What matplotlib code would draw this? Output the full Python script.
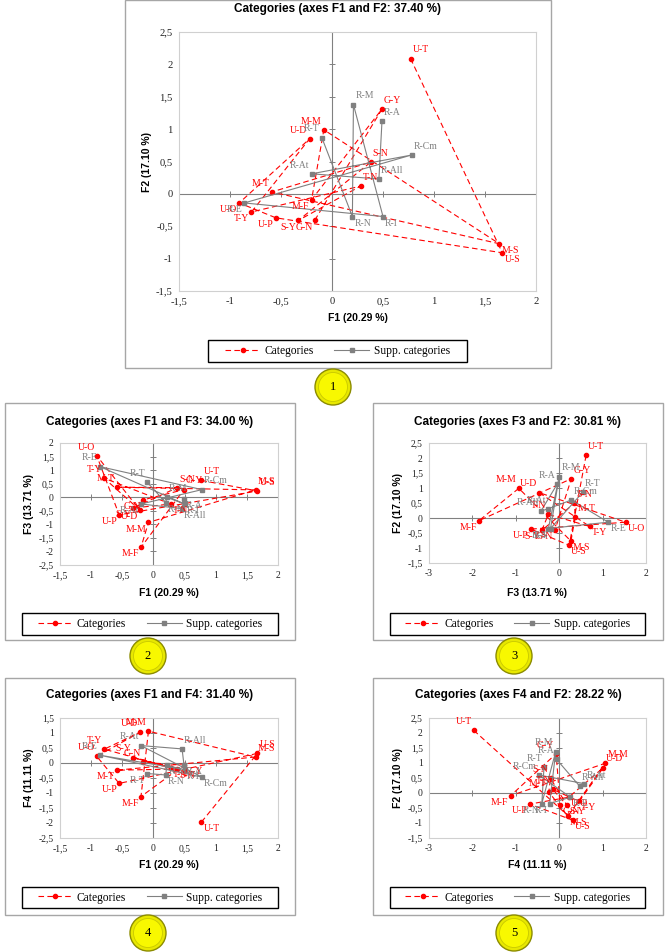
import numpy as np
import matplotlib.pyplot as plt
from matplotlib.patches import Rectangle, Circle
from matplotlib.lines import Line2D
from matplotlib.ticker import FuncFormatter

W, H = 669, 952

# active categories, in series order
cat_labels = ['U-T', 'U-S', 'U-P', 'U-O', 'U-D', 'T-Y', 'T-N', 'S-Y', 'S-N',
              'M-T', 'M-S', 'M-M', 'M-F', 'G-Y', 'G-N']
cat_f1 = [0.77, 1.67, -0.55, -0.91, -0.22, -0.79, 0.28, -0.33, 0.38,
          -0.59, 1.64, -0.08, -0.20, 0.49, -0.17]
cat_f2 = [2.09, -0.91, -0.37, -0.14, 0.85, -0.28, 0.12, -0.41, 0.49,
          0.03, -0.77, 0.99, -0.09, 1.31, -0.41]
cat_f3 = [0.62, 0.23, -0.65, 1.53, -0.47, 0.70, -0.25, -0.40, 0.35,
          0.37, 0.27, -0.93, -1.85, 0.28, -0.10]
cat_f4 = [-1.97, 0.32, -0.68, 0.22, 1.02, 0.46, -0.15, 0.18, -0.20,
          -0.24, 0.20, 1.06, -1.12, -0.07, 0.02]

# supplementary categories
sup_labels = ['R-T', 'R-N', 'R-M', 'R-I', 'R-E', 'R-Cm', 'R-At', 'R-All', 'R-A']
sup_f1 = [-0.10, 0.20, 0.21, 0.50, -0.86, 0.78, -0.20, 0.46, 0.49]
sup_f2 = [0.87, -0.35, 1.38, -0.35, -0.14, 0.60, 0.31, 0.23, 1.12]
sup_f3 = [0.55, -0.20, 0.00, -0.25, 1.13, 0.28, -0.25, -0.42, -0.05]
sup_f4 = [-0.35, -0.40, -0.08, -0.22, 0.26, -0.47, 0.58, 0.47, -0.06]

inertia = {'F1': '20.29', 'F2': '17.10', 'F3': '13.71', 'F4': '11.11'}
totals = ['37.40', '34.00', '30.81', '31.40', '28.22']
pairs = [('F1', 'F2'), ('F1', 'F3'), ('F3', 'F2'), ('F1', 'F4'), ('F4', 'F2')]

cat = {'F1': cat_f1, 'F2': cat_f2, 'F3': cat_f3, 'F4': cat_f4}
sup = {'F1': sup_f1, 'F2': sup_f2, 'F3': sup_f3, 'F4': sup_f4}

RED = '#FF0000'
GREY = '#808080'
SERIF = 'Liberation Serif'
SANS = 'Liberation Sans'

# layout in pixels: frame, plot area, limits, title, xlabel, ylabel x, legend box, circle
panels = [
    dict(frame=(125, 0, 551, 368), box=(179, 32, 536, 291), xl=(-1.5, 2, 0.5), yl=(-1.5, 2.5, 0.5),
         title=(338, 9), xlab=(358, 318), ylab=147, leg=(208, 340, 467, 362), circ=(333, 387), tfs=7.6),
    dict(frame=(5, 403, 295, 640), box=(60, 443, 278, 565), xl=(-1.5, 2, 0.5), yl=(-2.5, 2, 0.5),
         title=(150, 422), xlab=(169, 593), ylab=29, leg=(22, 613, 278, 635), circ=(148, 656), tfs=6.9),
    dict(frame=(373, 403, 663, 640), box=(429, 443, 646, 563), xl=(-3, 2, 1), yl=(-1.5, 2.5, 0.5),
         title=(518, 422), xlab=(537, 593), ylab=398, leg=(390, 613, 645, 635), circ=(514, 656), tfs=6.9),
    dict(frame=(5, 678, 295, 915), box=(60, 718, 278, 838), xl=(-1.5, 2, 0.5), yl=(-2.5, 1.5, 0.5),
         title=(150, 695), xlab=(169, 865), ylab=29, leg=(22, 887, 278, 908), circ=(148, 933), tfs=6.9),
    dict(frame=(373, 678, 663, 915), box=(429, 718, 646, 838), xl=(-3, 2, 1), yl=(-1.5, 2.5, 0.5),
         title=(518, 695), xlab=(537, 865), ylab=398, leg=(390, 887, 645, 908), circ=(514, 933), tfs=6.9),
]

fig = plt.figure(figsize=(W / 100, H / 100), dpi=100)

# overlay in pixel coordinates for frames, texts and circles
ov = fig.add_axes([0, 0, 1, 1])
ov.set_xlim(0, W)
ov.set_ylim(H, 0)
ov.axis('off')

fmt = FuncFormatter(lambda v, p: ('%g' % v).replace('.', ','))

red_handle = Line2D([], [], color=RED, ls=(0, (5, 3)), lw=0.8, marker='o', ms=3)
grey_handle = Line2D([], [], color=GREY, ls='-', lw=0.8, marker='s', ms=3)


def put_labels(ax, xs, ys, labels, color):
    for x, y, t in zip(xs, ys, labels):
        sx = 1 if x >= 0 else -1
        sy = 1 if y >= 0 else -1
        ax.annotate(t, (x, y), xytext=(sx * 1.5, 3 if sy > 0 else -1.5),
                    textcoords='offset points', ha='left' if sx > 0 else 'right',
                    va='bottom' if sy > 0 else 'top', color=color,
                    fontsize=7, family=SERIF, zorder=5)


for i, (p, (fa, fb)) in enumerate(zip(panels, pairs)):
    x0, y0, x1, y1 = p['frame']
    ov.add_patch(Rectangle((x0, y0), x1 - x0, y1 - y0, fill=False, ec='#A6A6A6', lw=1))

    bx0, by0, bx1, by1 = p['box']
    ax = fig.add_axes([bx0 / W, 1 - by1 / H, (bx1 - bx0) / W, (by1 - by0) / H])
    xmin, xmax, xs = p['xl']
    ymin, ymax, ys = p['yl']
    xt = np.arange(xmin, xmax + xs / 2, xs)
    yt = np.arange(ymin, ymax + ys / 2, ys)
    ax.set_xlim(xmin, xmax)
    ax.set_ylim(ymin, ymax)
    ax.set_xticks(xt)
    ax.set_yticks(yt)
    ax.xaxis.set_major_formatter(fmt)
    ax.yaxis.set_major_formatter(fmt)
    ax.tick_params(length=0, pad=4.5, labelsize=p['tfs'], labelcolor='#222222')
    for lab in ax.get_xticklabels() + ax.get_yticklabels():
        lab.set_family(SERIF)
    for s in ax.spines.values():
        s.set_color('#D0D0D0')
        s.set_linewidth(0.8)

    # zero axes with tick marks
    ax.axhline(0, color=GREY, lw=0.8, zorder=1)
    ax.axvline(0, color=GREY, lw=0.8, zorder=1)
    ax.plot(xt, np.zeros_like(xt), ls='none', marker='|', ms=4, mew=0.7, color=GREY, zorder=1, clip_on=False)
    ax.plot(np.zeros_like(yt), yt, ls='none', marker='_', ms=4, mew=0.7, color=GREY, zorder=1, clip_on=False)

    ax.plot(cat[fa], cat[fb], color=RED, ls=(0, (5, 3)), lw=0.8, marker='o', ms=3, zorder=3)
    ax.plot(sup[fa], sup[fb], color=GREY, ls='-', lw=0.8, marker='s', ms=3, zorder=3)
    put_labels(ax, cat[fa], cat[fb], cat_labels, RED)
    put_labels(ax, sup[fa], sup[fb], sup_labels, GREY)

    tx, ty = p['title']
    ov.text(tx, ty, 'Categories (axes %s and %s: %s %%)' % (fa, fb, totals[i]),
            ha='center', va='center', fontsize=8.5, fontweight='bold', family=SANS)
    lx, ly = p['xlab']
    ov.text(lx, ly, '%s (%s %%)' % (fa, inertia[fa]), ha='center', va='center',
            fontsize=7.5, fontweight='bold', family=SANS)
    ov.text(p['ylab'], (by0 + by1) / 2, '%s (%s %%)' % (fb, inertia[fb]), ha='center', va='center',
            rotation=90, fontsize=7.5, fontweight='bold', family=SANS)

    lx0, ly0, lx1, ly1 = p['leg']
    ov.add_patch(Rectangle((lx0, ly0), lx1 - lx0, ly1 - ly0, fill=False, ec='black', lw=1))
    fig.legend([red_handle, grey_handle], ['Categories', 'Supp. categories'], loc='center',
               bbox_to_anchor=((lx0 + lx1) / 2 / W, 1 - (ly0 + ly1) / 2 / H), ncol=2, frameon=False,
               prop={'family': SERIF, 'size': 8.3}, handlelength=3, handletextpad=0.4,
               columnspacing=1.8, borderpad=0)

    cx, cy = p['circ']
    ov.add_patch(Circle((cx, cy), 18, fc='#E8E800', ec='#8C8C00', lw=1))
    ov.add_patch(Circle((cx, cy), 14.5, fc='#F8F800', ec='#C8C800', lw=0.6))
    ov.text(cx, cy, str(i + 1), ha='center', va='center', fontsize=9, family=SERIF)

fig.savefig('out.png', dpi=100)
